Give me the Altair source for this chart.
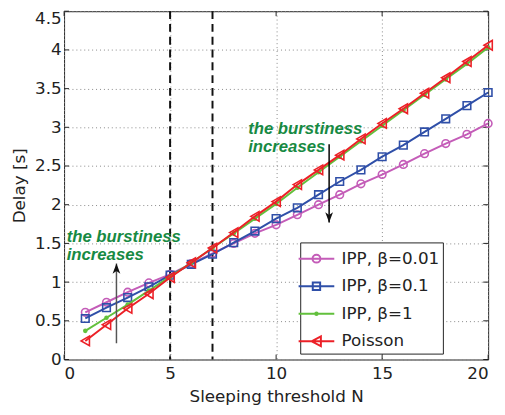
import altair as alt
import pandas as pd

# ---------------- data ----------------
N = list(range(1, 21))
delay_ipp_001 = [0.61, 0.74, 0.87, 0.99, 1.10, 1.24, 1.37, 1.50, 1.63, 1.74,
                 1.87, 2.00, 2.13, 2.27, 2.39, 2.52, 2.66, 2.79, 2.91, 3.05]
delay_ipp_01 = [0.53, 0.67, 0.80, 0.94, 1.09, 1.23, 1.36, 1.51, 1.66, 1.82,
                1.96, 2.13, 2.30, 2.45, 2.62, 2.77, 2.94, 3.11, 3.28, 3.45]
delay_ipp_1 = [0.37, 0.54, 0.71, 0.89, 1.07, 1.25, 1.44, 1.63, 1.82, 2.01,
               2.22, 2.42, 2.62, 2.82, 3.02, 3.22, 3.42, 3.62, 3.82, 4.03]
delay_poisson = [0.24, 0.45, 0.66, 0.85, 1.06, 1.25, 1.44, 1.64, 1.85, 2.04,
                 2.26, 2.45, 2.64, 2.85, 3.05, 3.24, 3.44, 3.64, 3.85, 4.06]

series_names = ["IPP, β=0.01", "IPP, β=0.1", "IPP, β=1", "Poisson"]
series_values = [delay_ipp_001, delay_ipp_01, delay_ipp_1, delay_poisson]
series_colors = ["#c45cb8", "#2f4fa8", "#62c03c", "#ec2027"]
marker_shapes = ["circle", "square", "circle", "triangle-left"]
marker_sizes = [60, 60, 22, 95]
marker_filled = [False, False, True, False]
# legend glyphs: line segment + marker
legend_paths = [
    "M-1.45,0H1.45M-0.32,0A0.32,0.32 0 1,1 0.32,0A0.32,0.32 0 1,1 -0.32,0",
    "M-1.45,0H1.45M-0.3,-0.3H0.3V0.3H-0.3Z",
    "M-1.45,0H1.45M-0.1,0A0.1,0.1 0 1,1 0.1,0A0.1,0.1 0 1,1 -0.1,0",
    "M-1.45,0H1.45M-0.4,0L0.36,-0.4L0.36,0.4Z",
]

x_ticks = [0, 5, 10, 15, 20]
y_ticks = [0, 0.5, 1, 1.5, 2, 2.5, 3, 3.5, 4, 4.5]
thresholds = [5, 7]

annot_text = ["the burstiness", "increases", "the burstiness", "increases"]
annot_x = [8.68, 8.68, 0.12, 0.12]
annot_y = [2.91, 2.68, 1.52, 1.29]

arrow_x = [12.5, 2.47]
arrow_y_start = [2.78, 0.21]
arrow_y_end = [1.77, 1.24]
arrow_rot = [180, 0]
arrow_line_color = ["#000000", "#555555"]

# ---------------- frames ----------------
rows = []
for name, vals in zip(series_names, series_values):
    for n, v in zip(N, vals):
        rows.append({"series": name, "N": n, "delay": v})
df = pd.DataFrame(rows)

ticks_x_df = pd.DataFrame({"t": x_ticks})
ticks_y_df = pd.DataFrame({"t": y_ticks})
thr_df = pd.DataFrame({"t": thresholds})
annot_df = pd.DataFrame({"text": annot_text, "x": annot_x, "y": annot_y})
arrow_df = pd.DataFrame({"x": arrow_x, "y0": arrow_y_start, "y1": arrow_y_end,
                         "rot": arrow_rot, "lc": arrow_line_color})

W, H = 431, 354
FONT = "DejaVu Sans"
TXT = "#222222"

xscale = alt.Scale(domain=[0, 20], nice=False, zero=False)
yscale = alt.Scale(domain=[0, 4.5], nice=False, zero=False)
xaxis = alt.Axis(values=x_ticks, format="~g", grid=True, ticks=False, domain=False,
                 labelPadding=6, titlePadding=8)
yaxis = alt.Axis(values=y_ticks, format="~g", grid=True, ticks=False, domain=False,
                 labelPadding=3, titlePadding=6,
                 labelBaseline=alt.condition("datum.value == 4.5",
                                             alt.value("top"), alt.value("middle")))


def X(field):
    return alt.X(f"{field}:Q", scale=xscale, axis=xaxis, title="Sleeping threshold N")


def Y(field):
    return alt.Y(f"{field}:Q", scale=yscale, axis=yaxis, title="Delay [s]")


layers = []

# inner ticks (MATLAB style)
tick_style = dict(color="#222222", strokeWidth=1)
layers.append(alt.Chart(ticks_y_df).mark_rule(**tick_style).encode(
    y=Y("t"), x=alt.value(0), x2=alt.value(5)))
layers.append(alt.Chart(ticks_y_df).mark_rule(**tick_style).encode(
    y=Y("t"), x=alt.value(W - 5), x2=alt.value(W)))
layers.append(alt.Chart(ticks_x_df).mark_rule(**tick_style).encode(
    x=X("t"), y=alt.value(H), y2=alt.value(H - 5)))
layers.append(alt.Chart(ticks_x_df).mark_rule(**tick_style).encode(
    x=X("t"), y=alt.value(0), y2=alt.value(5)))

# threshold dashed lines
layers.append(alt.Chart(thr_df).mark_rule(color="#111111", strokeWidth=2,
                                          strokeDash=[8, 5]).encode(x=X("t")))

# series
for name, col, shp, sz, fl in zip(series_names, series_colors, marker_shapes,
                                  marker_sizes, marker_filled):
    base = alt.Chart(df).transform_filter(alt.datum.series == name)
    layers.append(base.mark_line(color=col, strokeWidth=2).encode(x=X("N"), y=Y("delay")))
    layers.append(base.mark_point(color=col, shape=shp, size=sz, filled=fl,
                                  strokeWidth=1.6, opacity=1).encode(x=X("N"), y=Y("delay")))

# legend provider (invisible points)
leg = alt.Legend(title=None, orient="none", legendX=240, legendY=235,
                 symbolSize=625, symbolStrokeWidth=2, symbolOpacity=1,
                 symbolFillColor="transparent",
                 labelFont=FONT, labelFontSize=17, labelColor=TXT, labelOffset=12,
                 padding=3, rowPadding=6, strokeColor="#222222", fillColor="white",
                 cornerRadius=0)
layers.append(alt.Chart(df).mark_point(opacity=0, filled=False).encode(
    x=X("N"), y=Y("delay"),
    color=alt.Color("series:N", scale=alt.Scale(domain=series_names, range=series_colors),
                    legend=leg),
    shape=alt.Shape("series:N", scale=alt.Scale(domain=series_names, range=legend_paths),
                    legend=leg),
))

# annotations
layers.append(alt.Chart(annot_df).mark_text(align="left", baseline="alphabetic",
                                            font="Liberation Sans",
                                            fontSize=17, fontWeight="bold", fontStyle="italic",
                                            color="#178a43").encode(
    x=X("x"), y=Y("y"), text="text:N"))

# arrows
layers.append(alt.Chart(arrow_df).mark_rule(strokeWidth=1.5).encode(
    x=X("x"), y=Y("y0"), y2="y1:Q", color=alt.Color("lc:N", scale=None)))
layers.append(alt.Chart(arrow_df).mark_point(
    shape="M0,0L0.75,2L0,1.45L-0.75,2Z", size=110, filled=True, color="#111111",
    opacity=1).encode(x=X("x"), y=Y("y1"), angle=alt.Angle("rot:Q", scale=None)))

chart = alt.layer(*layers).properties(
    width=W, height=H,
    background="white",
    autosize=alt.AutoSizeParams(type="none"),
    padding={"left": 57, "top": 0, "right": 9, "bottom": 45},
).configure_view(stroke="#222222", strokeWidth=1).configure_axis(
    labelFont=FONT, labelFontSize=17, labelColor=TXT,
    titleFont=FONT, titleFontSize=17, titleFontWeight="normal", titleColor=TXT,
    gridColor="#888888", gridDash=[1, 3], gridWidth=1,
)

chart.save("out.html", embed_options={"renderer": "svg", "actions": False})
